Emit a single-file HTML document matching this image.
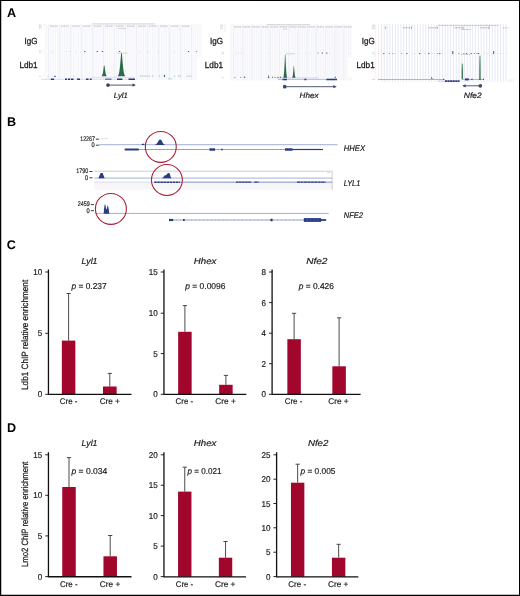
<!DOCTYPE html>
<html lang="en">
<head>
<meta charset="utf-8">
<title>Figure</title>
<style>
html,body{margin:0;padding:0;background:#fff;}
body{width:520px;height:596px;overflow:hidden;position:relative;}
svg text{stroke:#1a1a1a;stroke-width:0.18px;}
svg text.nb{stroke:none;}
svg{position:absolute;left:0;top:0;display:block;will-change:transform;opacity:0.999;font-family:"Liberation Sans", sans-serif;}
</style>
</head>
<body>
<svg width="520" height="596" viewBox="0 0 520 596" text-rendering="geometricPrecision">
<text x="7.0" y="17.1" font-size="12.6" text-anchor="start" font-weight="bold" class="nb" fill="#000">A</text>
<text x="7.0" y="125.9" font-size="12.6" text-anchor="start" font-weight="bold" class="nb" fill="#000">B</text>
<text x="6.7" y="249.1" font-size="12.6" text-anchor="start" font-weight="bold" class="nb" fill="#000">C</text>
<text x="7.0" y="432.1" font-size="12.6" text-anchor="start" font-weight="bold" class="nb" fill="#000">D</text>
<rect x="44.5" y="23.5" width="157.5" height="57" fill="#fcfcfe"/>
<path d="M46.40 24.5V80M48.66 24.5V80M50.92 24.5V80M53.18 24.5V80M55.44 24.5V80M57.70 24.5V80M59.96 24.5V80M62.22 24.5V80M64.48 24.5V80M66.74 24.5V80M69.00 24.5V80M71.26 24.5V80M73.52 24.5V80M75.78 24.5V80M78.04 24.5V80M80.30 24.5V80M82.56 24.5V80M84.82 24.5V80M87.08 24.5V80M89.34 24.5V80M91.60 24.5V80M93.86 24.5V80M96.12 24.5V80M98.38 24.5V80M100.64 24.5V80M102.90 24.5V80M105.16 24.5V80M107.42 24.5V80M109.68 24.5V80M111.94 24.5V80M114.20 24.5V80M116.46 24.5V80M118.72 24.5V80M120.98 24.5V80M123.24 24.5V80M125.50 24.5V80M127.76 24.5V80M130.02 24.5V80M132.28 24.5V80M134.54 24.5V80M136.80 24.5V80M139.06 24.5V80M141.32 24.5V80M143.58 24.5V80M145.84 24.5V80M148.10 24.5V80M150.36 24.5V80M152.62 24.5V80M154.88 24.5V80M157.14 24.5V80M159.40 24.5V80M161.66 24.5V80M163.92 24.5V80M166.18 24.5V80M168.44 24.5V80M170.70 24.5V80M172.96 24.5V80M175.22 24.5V80M177.48 24.5V80M179.74 24.5V80M182.00 24.5V80M184.26 24.5V80M186.52 24.5V80M188.78 24.5V80M191.04 24.5V80M193.30 24.5V80M195.56 24.5V80M197.82 24.5V80M200.08 24.5V80" stroke="#f1f2f8" stroke-width="0.7" fill="none"/>
<path d="M48.60 24.5V80M59.60 24.5V80M70.60 24.5V80M81.60 24.5V80M92.60 24.5V80M103.60 24.5V80M114.60 24.5V80M125.60 24.5V80M136.60 24.5V80M147.60 24.5V80M158.60 24.5V80M169.60 24.5V80M180.60 24.5V80M191.60 24.5V80" stroke="#eaecf4" stroke-width="0.7" fill="none"/>
<path d="M43.8 24V80" stroke="#f8ecec" stroke-width="0.6" stroke-dasharray="6 18"/>
<path d="M92 23.9H155" stroke="#b9b9c2" stroke-width="0.6"/>
<path d="M50 26.1h8M61 26.1h8M72 26.1h8M83 26.1h8M94 26.1h8M105 26.1h8M116 26.1h8M127 26.1h8M138 26.1h8M149 26.1h8M160 26.1h8M171 26.1h8M182 26.1h8" stroke="#a2a2ad" stroke-width="0.75" stroke-dasharray="1.1 0.45" fill="none"/>
<path d="M117.8 28.5h8.4" stroke="#b4b4be" stroke-width="0.7" stroke-dasharray="1.1 0.45" fill="none"/>
<path d="M39.2 25h2.6" stroke="#aaa" stroke-width="0.7" stroke-dasharray="0.9 0.4"/>
<path d="M39.2 26.6h2.6" stroke="#aaa" stroke-width="0.7" stroke-dasharray="0.9 0.4"/>
<path d="M39.2 28.2h2.6" stroke="#aaa" stroke-width="0.7" stroke-dasharray="0.9 0.4"/>
<path d="M39.2 50.8h2.6" stroke="#a8c8b6" stroke-width="0.7" stroke-dasharray="0.9 0.4"/>
<path d="M39.2 52.3h2.6" stroke="#a8c8b6" stroke-width="0.7" stroke-dasharray="0.9 0.4"/>
<path d="M39.2 76.4h2.6" stroke="#a8c8b6" stroke-width="0.7" stroke-dasharray="0.9 0.4"/>
<rect x="51.10" y="51.15" width="1.0" height="0.7" fill="#cfd0da"/>
<rect x="65.50" y="51.15" width="1.0" height="0.7" fill="#cfd0da"/>
<rect x="69.90" y="51.15" width="1.0" height="0.7" fill="#cfd0da"/>
<rect x="74.90" y="51.15" width="1.0" height="0.7" fill="#cfd0da"/>
<rect x="84.15" y="51.05" width="1.3" height="0.9" fill="#4a4b63"/>
<rect x="96.55" y="51.05" width="1.3" height="0.9" fill="#4a4b63"/>
<rect x="101.85" y="51.05" width="1.3" height="0.9" fill="#4a4b63"/>
<rect x="118.95" y="51.05" width="1.3" height="0.9" fill="#4a4b63"/>
<rect x="138.90" y="51.15" width="1.0" height="0.7" fill="#cfd0da"/>
<rect x="147.00" y="51.15" width="1.0" height="0.7" fill="#cfd0da"/>
<rect x="157.50" y="51.15" width="1.0" height="0.7" fill="#cfd0da"/>
<rect x="173.90" y="51.15" width="1.0" height="0.7" fill="#cfd0da"/>
<rect x="187.85" y="51.05" width="1.3" height="0.9" fill="#4a4b63"/>
<rect x="195.85" y="51.05" width="1.3" height="0.9" fill="#9495a6"/>
<path d="M117.6 53.1h10" stroke="#9cc0ac" stroke-width="0.7" stroke-dasharray="1.4 0.5"/>
<path d="M103.91 65.40 L103.60 68.10 L103.24 70.80 L102.77 73.61 L102.30 75.12 L101.60 76.20 L106.80 76.20 L106.10 75.12 L105.63 73.61 L105.16 70.80 L104.80 68.10 L104.49 65.40Z" fill="#2b6a49"/>
<path d="M121.10 53.20 L120.66 58.95 L120.15 64.70 L119.49 70.68 L118.84 73.90 L117.85 76.20 L125.15 76.20 L124.16 73.90 L123.51 70.68 L122.85 64.70 L122.34 58.95 L121.90 53.20Z" fill="#2b6a49"/>
<path d="M47.6 76.3h1.2M73 76.3h1.2" stroke="#a8c8b6" stroke-width="0.8"/>
<path d="M54 76.4h2" stroke="#2a3a8a" stroke-width="0.8"/>
<path d="M91 77.4H134.4" stroke="#c0cbeb" stroke-width="0.5"/>
<path d="M140 76.1h10M152 76.1h2M159 76.1h1.6M174 76.1h1M178 76.1h3.6M186.8 76.1h4.8M199.2 76.1h0.8" stroke="#7fae93" stroke-width="0.7" stroke-dasharray="1.2 0.6"/>
<rect x="163.9" y="74.9" width="1.1" height="2" fill="#2b6a49"/>
<path d="M41 79.3H135" stroke="#d9dff2" stroke-width="1"/>
<path d="M50.8 79.25H54.1M65 79.25H67M67.9 79.25H70M70.8 79.25H73.5M77 79.25H80M86 79.25H88.5M89.8 79.25H91.6M117 79.25H122.4M128.5 79.25H135" stroke="#2a3a8a" stroke-width="1.5"/>
<path d="M105 79.25H111.5" stroke="#6b7cc0" stroke-width="1.5"/>
<path d="M168 78.8h4" stroke="#b9c6ea" stroke-width="0.9"/>
<text x="37.6" y="44.2" font-size="8.9" text-anchor="end" textLength="13.0" lengthAdjust="spacingAndGlyphs" fill="#1a1a1a" style="stroke-width:0.28px">IgG</text>
<text x="37.6" y="68.1" font-size="8.9" text-anchor="end" textLength="18.2" lengthAdjust="spacingAndGlyphs" fill="#1a1a1a" style="stroke-width:0.28px">Ldb1</text>
<circle cx="108" cy="85.1" r="1.85" fill="#3b4766"/>
<path d="M108 85.1H134.4" stroke="#3b4766" stroke-width="0.9"/>
<path d="M135.9 85.1l-3.4 -1.6v3.2z" fill="#3b4766"/>
<text x="113.8" y="97.7" font-size="7.8" text-anchor="start" font-style="italic" textLength="14.0" lengthAdjust="spacingAndGlyphs" fill="#1a1a1a">Lyl1</text>
<rect x="229.8" y="24" width="121.6" height="56.6" fill="#fbfbfd"/>
<path d="M231.20 24.8V80.2M233.50 24.8V80.2M235.80 24.8V80.2M238.10 24.8V80.2M240.40 24.8V80.2M242.70 24.8V80.2M245.00 24.8V80.2M247.30 24.8V80.2M249.60 24.8V80.2M251.90 24.8V80.2M254.20 24.8V80.2M256.50 24.8V80.2M258.80 24.8V80.2M261.10 24.8V80.2M263.40 24.8V80.2M265.70 24.8V80.2M268.00 24.8V80.2M270.30 24.8V80.2M272.60 24.8V80.2M274.90 24.8V80.2M277.20 24.8V80.2M279.50 24.8V80.2M281.80 24.8V80.2M284.10 24.8V80.2M286.40 24.8V80.2M288.70 24.8V80.2M291.00 24.8V80.2M293.30 24.8V80.2M295.60 24.8V80.2M297.90 24.8V80.2M300.20 24.8V80.2M302.50 24.8V80.2M304.80 24.8V80.2M307.10 24.8V80.2M309.40 24.8V80.2M311.70 24.8V80.2M314.00 24.8V80.2M316.30 24.8V80.2M318.60 24.8V80.2M320.90 24.8V80.2M323.20 24.8V80.2M325.50 24.8V80.2M327.80 24.8V80.2M330.10 24.8V80.2M332.40 24.8V80.2M334.70 24.8V80.2M337.00 24.8V80.2M339.30 24.8V80.2M341.60 24.8V80.2M343.90 24.8V80.2M346.20 24.8V80.2M348.50 24.8V80.2M350.80 24.8V80.2" stroke="#f1f2f8" stroke-width="0.7" fill="none"/>
<path d="M233.50 24.8V80.2M242.70 24.8V80.2M251.90 24.8V80.2M261.10 24.8V80.2M270.30 24.8V80.2M279.50 24.8V80.2M288.70 24.8V80.2M297.90 24.8V80.2M307.10 24.8V80.2M316.30 24.8V80.2M325.50 24.8V80.2M334.70 24.8V80.2M343.90 24.8V80.2" stroke="#eaecf4" stroke-width="0.7" fill="none"/>
<rect x="197" y="57" width="32.6" height="24" fill="#fff"/>
<rect x="348.2" y="57" width="10" height="20" fill="#fff"/>
<path d="M266.8 24.7H310" stroke="#b9b9c2" stroke-width="0.6"/>
<path d="M224.9 24V32" stroke="#f1d9d9" stroke-width="0.6"/>
<path d="M234.0 26.9h7.4M243.2 26.9h7.4M252.4 26.9h7.4M261.6 26.9h7.4M270.8 26.9h7.4M280.0 26.9h7.4M289.2 26.9h7.4M298.4 26.9h7.4M307.6 26.9h7.4M316.8 26.9h7.4M326.0 26.9h7.4M335.2 26.9h7.4M344.4 26.9h7.4" stroke="#a2a2ad" stroke-width="0.75" stroke-dasharray="1.1 0.45" fill="none"/>
<path d="M283 29h4.2" stroke="#b4b4be" stroke-width="0.7" stroke-dasharray="1.1 0.45" fill="none"/>
<path d="M220.4 25.2h2.6" stroke="#aaa" stroke-width="0.7" stroke-dasharray="0.9 0.4"/>
<path d="M220.4 26.8h2.6" stroke="#aaa" stroke-width="0.7" stroke-dasharray="0.9 0.4"/>
<path d="M220.4 28.4h2.6" stroke="#aaa" stroke-width="0.7" stroke-dasharray="0.9 0.4"/>
<path d="M221.6 52.4h2.6" stroke="#a8c8b6" stroke-width="0.7" stroke-dasharray="0.9 0.4"/>
<path d="M221.6 54h2.6" stroke="#a8c8b6" stroke-width="0.7" stroke-dasharray="0.9 0.4"/>
<path d="M221.6 77.6h2.6" stroke="#a8c8b6" stroke-width="0.7" stroke-dasharray="0.9 0.4"/>
<rect x="235.50" y="52.75" width="1.0" height="0.7" fill="#cfd0da"/>
<rect x="238.00" y="52.75" width="1.0" height="0.7" fill="#cfd0da"/>
<rect x="240.90" y="52.75" width="1.0" height="0.7" fill="#cfd0da"/>
<rect x="267.50" y="52.75" width="1.0" height="0.7" fill="#cfd0da"/>
<rect x="280.50" y="52.75" width="1.0" height="0.7" fill="#cfd0da"/>
<rect x="298.30" y="52.75" width="1.0" height="0.7" fill="#cfd0da"/>
<rect x="305.50" y="52.75" width="1.0" height="0.7" fill="#cfd0da"/>
<rect x="309.50" y="52.75" width="1.0" height="0.7" fill="#cfd0da"/>
<rect x="317.35" y="52.65" width="1.3" height="0.9" fill="#9495a6"/>
<rect x="321.75" y="52.65" width="1.3" height="0.9" fill="#4a4b63"/>
<rect x="326.15" y="52.65" width="1.3" height="0.9" fill="#4a4b63"/>
<rect x="329.50" y="52.75" width="1.0" height="0.7" fill="#cfd0da"/>
<rect x="349.90" y="52.75" width="1.0" height="0.7" fill="#cfd0da"/>
<path d="M286.4 53.8h8.6" stroke="#9cc0ac" stroke-width="0.7" stroke-dasharray="1.4 0.5"/>
<path d="M275 77.9H318.8" stroke="#b3c0e6" stroke-width="0.6"/>
<path d="M284.99 54.40 L284.75 60.23 L284.48 66.05 L284.13 72.11 L283.78 75.37 L283.25 77.70 L287.15 77.70 L286.62 75.37 L286.27 72.11 L285.92 66.05 L285.65 60.23 L285.41 54.40Z" fill="#2b6a49"/>
<path d="M293.66 66.00 L293.45 68.92 L293.20 71.85 L292.89 74.89 L292.57 76.53 L292.10 77.70 L295.60 77.70 L295.13 76.53 L294.81 74.89 L294.50 71.85 L294.25 68.92 L294.04 66.00Z" fill="#2b6a49"/>
<path d="M234.82 76.80 L234.74 77.08 L234.64 77.35 L234.52 77.64 L234.39 77.79 L234.20 77.90 L235.60 77.90 L235.41 77.79 L235.28 77.64 L235.16 77.35 L235.06 77.08 L234.98 76.80Z" fill="#3f7a5a"/>
<path d="M240.82 76.80 L240.74 77.08 L240.64 77.35 L240.52 77.64 L240.39 77.79 L240.20 77.90 L241.60 77.90 L241.41 77.79 L241.28 77.64 L241.16 77.35 L241.06 77.08 L240.98 76.80Z" fill="#3f7a5a"/>
<path d="M244.40 75.80 L244.29 76.33 L244.17 76.85 L244.00 77.40 L243.84 77.69 L243.60 77.90 L245.40 77.90 L245.16 77.69 L245.00 77.40 L244.83 76.85 L244.71 76.33 L244.60 75.80Z" fill="#3f7a5a"/>
<path d="M268.49 74.80 L268.37 75.58 L268.23 76.35 L268.05 77.16 L267.87 77.59 L267.60 77.90 L269.60 77.90 L269.33 77.59 L269.15 77.16 L268.97 76.35 L268.83 75.58 L268.71 74.80Z" fill="#3f7a5a"/>
<path d="M272.31 76.40 L272.22 76.78 L272.10 77.15 L271.96 77.54 L271.82 77.75 L271.60 77.90 L273.20 77.90 L272.98 77.75 L272.84 77.54 L272.70 77.15 L272.58 76.78 L272.49 76.40Z" fill="#3f7a5a"/>
<path d="M274.82 76.60 L274.74 76.92 L274.64 77.25 L274.51 77.59 L274.39 77.77 L274.20 77.90 L275.60 77.90 L275.41 77.77 L275.28 77.59 L275.16 77.25 L275.06 76.92 L274.98 76.60Z" fill="#3f7a5a"/>
<path d="M277.91 76.20 L277.82 76.62 L277.70 77.05 L277.56 77.49 L277.42 77.73 L277.20 77.90 L278.80 77.90 L278.58 77.73 L278.44 77.49 L278.30 77.05 L278.18 76.62 L278.09 76.20Z" fill="#3f7a5a"/>
<path d="M280.51 76.20 L280.42 76.62 L280.30 77.05 L280.16 77.49 L280.02 77.73 L279.80 77.90 L281.40 77.90 L281.18 77.73 L281.04 77.49 L280.90 77.05 L280.78 76.62 L280.69 76.20Z" fill="#3f7a5a"/>
<path d="M335.10 76.20 L334.99 76.62 L334.87 77.05 L334.70 77.49 L334.54 77.73 L334.30 77.90 L336.10 77.90 L335.86 77.73 L335.69 77.49 L335.53 77.05 L335.41 76.62 L335.30 76.20Z" fill="#3f7a5a"/>
<path d="M278 79.4H337" stroke="#9fb0dc" stroke-width="0.8"/>
<path d="M282.5 79.4H287M304.4 79.4h1.9M326.4 79.4H337" stroke="#2a3a8a" stroke-width="1.5"/>
<text x="223" y="44.2" font-size="8.9" text-anchor="end" textLength="13.0" lengthAdjust="spacingAndGlyphs" fill="#1a1a1a" style="stroke-width:0.28px">IgG</text>
<text x="223" y="68.1" font-size="8.9" text-anchor="end" textLength="18.2" lengthAdjust="spacingAndGlyphs" fill="#1a1a1a" style="stroke-width:0.28px">Ldb1</text>
<circle cx="284.7" cy="86.7" r="1.85" fill="#3b4766"/>
<path d="M284.7 86.7H335.2" stroke="#3b4766" stroke-width="0.9"/>
<path d="M336.7 86.7l-3.4 -1.6v3.2z" fill="#3b4766"/>
<text x="299.6" y="97.8" font-size="7.8" text-anchor="start" font-style="italic" textLength="18.9" lengthAdjust="spacingAndGlyphs" fill="#1a1a1a">Hhex</text>
<path d="M381.50 23.8V81.8M384.27 23.8V81.8M387.04 23.8V81.8M389.80 23.8V81.8M392.57 23.8V81.8M395.34 23.8V81.8M398.11 23.8V81.8M400.88 23.8V81.8M403.64 23.8V81.8M406.41 23.8V81.8M409.18 23.8V81.8M411.95 23.8V81.8M414.72 23.8V81.8M417.48 23.8V81.8M420.25 23.8V81.8M423.02 23.8V81.8M425.79 23.8V81.8M428.56 23.8V81.8M431.32 23.8V81.8M434.09 23.8V81.8M436.86 23.8V81.8M439.63 23.8V81.8M442.40 23.8V81.8M445.16 23.8V81.8M447.93 23.8V81.8M450.70 23.8V81.8M453.47 23.8V81.8M456.24 23.8V81.8M459.00 23.8V81.8M461.77 23.8V81.8M464.54 23.8V81.8M467.31 23.8V81.8M470.08 23.8V81.8M472.84 23.8V81.8M475.61 23.8V81.8M478.38 23.8V81.8M481.15 23.8V81.8M483.92 23.8V81.8M486.68 23.8V81.8M489.45 23.8V81.8M492.22 23.8V81.8M494.99 23.8V81.8M497.76 23.8V81.8M500.52 23.8V81.8M503.29 23.8V81.8M506.06 23.8V81.8" stroke="#e0e3f3" stroke-width="0.8" fill="none"/>
<path d="M508.80 78.5V82M511.10 78.5V82M513.40 78.5V82" stroke="#e6e8f5" stroke-width="0.8" fill="none"/>
<path d="M375.6 24V81M378.5 24V81" stroke="#f6e6e6" stroke-width="0.6"/>
<path d="M438 25.4H498.8" stroke="#9a9aa6" stroke-width="0.6" stroke-dasharray="1.6 0.5"/>
<path d="M402.8 27.8h7.6M428.6 27.8h7.6M454.4 27.8h7.6M480.2 27.8h7.6" stroke="#8e8e9a" stroke-width="0.75" stroke-dasharray="1.1 0.45" fill="none"/>
<path d="M385.6 26.6v2M411.4 26.6v2.2M437.2 26.6v2.2M463 26.6v2.2M488.8 26.6v2.2" stroke="#777" stroke-width="0.7"/>
<path d="M503 27.8h5.6" stroke="#b4b4be" stroke-width="0.8" stroke-dasharray="1.1 0.45" fill="none"/>
<path d="M461.4 29.5h8.4" stroke="#a2a2ad" stroke-width="0.7" stroke-dasharray="1.1 0.45" fill="none"/>
<path d="M372.4 25.2h2.6" stroke="#999" stroke-width="0.7" stroke-dasharray="0.9 0.4"/>
<path d="M372.4 26.8h2.6" stroke="#999" stroke-width="0.7" stroke-dasharray="0.9 0.4"/>
<path d="M372.4 28.4h2.6" stroke="#999" stroke-width="0.7" stroke-dasharray="0.9 0.4"/>
<path d="M372.4 52.6h2.6" stroke="#a8c8b6" stroke-width="0.7" stroke-dasharray="0.9 0.4"/>
<path d="M372.4 54.2h2.6" stroke="#a8c8b6" stroke-width="0.7" stroke-dasharray="0.9 0.4"/>
<path d="M372.4 79.4h2.6" stroke="#8fa2d6" stroke-width="0.7" stroke-dasharray="0.9 0.4"/>
<rect x="378.00" y="53.25" width="1.0" height="0.7" fill="#cfd0da"/>
<rect x="383.15" y="53.15" width="1.3" height="0.9" fill="#4a4b63"/>
<rect x="388.75" y="53.15" width="1.3" height="0.9" fill="#9495a6"/>
<rect x="392.35" y="53.15" width="1.3" height="0.9" fill="#9495a6"/>
<rect x="395.10" y="53.25" width="1.0" height="0.7" fill="#cfd0da"/>
<rect x="400.95" y="53.15" width="1.3" height="0.9" fill="#9495a6"/>
<rect x="406.25" y="53.15" width="1.3" height="0.9" fill="#4a4b63"/>
<rect x="413.30" y="53.25" width="1.0" height="0.7" fill="#cfd0da"/>
<rect x="415.10" y="53.25" width="1.0" height="0.7" fill="#cfd0da"/>
<rect x="418.95" y="53.15" width="1.3" height="0.9" fill="#4a4b63"/>
<rect x="423.90" y="53.25" width="1.0" height="0.7" fill="#cfd0da"/>
<rect x="428.15" y="53.15" width="1.3" height="0.9" fill="#4a4b63"/>
<rect x="431.50" y="53.25" width="1.0" height="0.7" fill="#cfd0da"/>
<rect x="433.90" y="53.25" width="1.0" height="0.7" fill="#cfd0da"/>
<rect x="436.85" y="53.15" width="1.3" height="0.9" fill="#9495a6"/>
<rect x="439.15" y="53.15" width="1.3" height="0.9" fill="#4a4b63"/>
<rect x="442.00" y="53.25" width="1.0" height="0.7" fill="#cfd0da"/>
<rect x="458.15" y="53.15" width="1.3" height="0.9" fill="#9495a6"/>
<rect x="463.15" y="53.15" width="1.3" height="0.9" fill="#9495a6"/>
<rect x="465.85" y="53.15" width="1.3" height="0.9" fill="#4a4b63"/>
<rect x="470.55" y="53.15" width="1.3" height="0.9" fill="#4a4b63"/>
<rect x="473.75" y="53.15" width="1.3" height="0.9" fill="#9495a6"/>
<rect x="476.35" y="53.15" width="1.3" height="0.9" fill="#9495a6"/>
<rect x="477.95" y="53.15" width="1.3" height="0.9" fill="#4a4b63"/>
<rect x="483.90" y="53.25" width="1.0" height="0.7" fill="#cfd0da"/>
<rect x="487.00" y="53.25" width="1.0" height="0.7" fill="#cfd0da"/>
<rect x="496.40" y="53.25" width="1.0" height="0.7" fill="#cfd0da"/>
<rect x="499.50" y="53.25" width="1.0" height="0.7" fill="#cfd0da"/>
<rect x="502.50" y="53.25" width="1.0" height="0.7" fill="#cfd0da"/>
<rect x="506.50" y="53.25" width="1.0" height="0.7" fill="#cfd0da"/>
<path d="M452.8 51.1v2.9M493.7 51.1v2.9" stroke="#2a2a40" stroke-width="0.8"/>
<path d="M461 54.5h9" stroke="#9cc0ac" stroke-width="0.7" stroke-dasharray="1.4 0.5"/>
<defs><linearGradient id="pg" x1="0" y1="0" x2="0" y2="1"><stop offset="0" stop-color="#7faf95"/><stop offset="0.5" stop-color="#3b7857"/><stop offset="1" stop-color="#2b6a49"/></linearGradient></defs>
<rect x="461.65" y="63.5" width="1.3" height="15.4" fill="url(#pg)"/>
<rect x="479.3" y="55.6" width="1.3" height="23.3" fill="url(#pg)"/>
<path d="M430.8 78.8l0.7-2 0.8 1.4 1.6 0.6z" fill="#3f7a5a"/>
<path d="M378 79.5H443.8M461.5 79.5H483.6" stroke="#aab4da" stroke-width="1"/>
<path d="M443.2 79.4h1.1" stroke="#2a3a8a" stroke-width="1.3"/>
<path d="M465 79.4h3.8" stroke="#2a3a8a" stroke-width="2"/>
<path d="M471.3 79.4h1.3M479.3 79.4h1.3M483 79.4h1" stroke="#2a3a8a" stroke-width="1.4"/>
<path d="M438 81.2H445" stroke="#c3cceb" stroke-width="1"/>
<path d="M445 81.2H459.6" stroke="#2a3a8a" stroke-width="1.7" stroke-dasharray="2.2 0.35"/>
<text x="374.7" y="44.2" font-size="8.9" text-anchor="end" textLength="13.0" lengthAdjust="spacingAndGlyphs" fill="#1a1a1a" style="stroke-width:0.28px">IgG</text>
<text x="374.7" y="68.1" font-size="8.9" text-anchor="end" textLength="18.2" lengthAdjust="spacingAndGlyphs" fill="#1a1a1a" style="stroke-width:0.28px">Ldb1</text>
<circle cx="480.3" cy="85.8" r="1.85" fill="#3b4766"/>
<path d="M480.3 85.8H463.7" stroke="#3b4766" stroke-width="0.9"/>
<path d="M462.2 85.8l3.4 -1.6v3.2z" fill="#3b4766"/>
<text x="463.8" y="97.8" font-size="7.8" text-anchor="start" font-style="italic" textLength="17.8" lengthAdjust="spacingAndGlyphs" fill="#1a1a1a">Nfe2</text>
<text x="94.8" y="141" font-size="6.7" text-anchor="end" textLength="14.5" lengthAdjust="spacingAndGlyphs" fill="#1c1c1c">12267</text>
<path d="M95.89999999999999 139.20h3.2" stroke="#1c1c1c" stroke-width="0.85"/>
<text x="94.8" y="147" font-size="6.7" text-anchor="end" textLength="3.2" lengthAdjust="spacingAndGlyphs" fill="#1c1c1c">0</text>
<path d="M95.89999999999999 145.20h3.2" stroke="#1c1c1c" stroke-width="0.85"/>
<text x="88.2" y="173.3" font-size="6.7" text-anchor="end" textLength="12" lengthAdjust="spacingAndGlyphs" fill="#1c1c1c">1790</text>
<path d="M89.3 171.50h3.2" stroke="#1c1c1c" stroke-width="0.85"/>
<text x="88.2" y="179.6" font-size="6.7" text-anchor="end" textLength="3.2" lengthAdjust="spacingAndGlyphs" fill="#1c1c1c">0</text>
<path d="M89.3 177.80h3.2" stroke="#1c1c1c" stroke-width="0.85"/>
<text x="89.7" y="206.4" font-size="6.7" text-anchor="end" textLength="12" lengthAdjust="spacingAndGlyphs" fill="#1c1c1c">2459</text>
<path d="M90.8 204.60h3.2" stroke="#1c1c1c" stroke-width="0.85"/>
<text x="89.7" y="212.5" font-size="6.7" text-anchor="end" textLength="3.2" lengthAdjust="spacingAndGlyphs" fill="#1c1c1c">0</text>
<path d="M90.8 210.70h3.2" stroke="#1c1c1c" stroke-width="0.85"/>
<path d="M100.5 138.6h7" stroke="#c9c9d2" stroke-width="0.7" stroke-dasharray="3 1"/>
<path d="M99 144.7H337.5" stroke="#a3b0d6" stroke-width="1"/>
<path d="M141.4 144.9l0.8-1.1h1.8l0.7 1.1z" fill="#2a3c86"/>
<path d="M154.4 145L156.3 144.3L157.7 142.2L158.9 140.3Q160.2 138.9 161.5 140.3L162.6 142.4L163.6 144L165.2 145Z" fill="#2a3c86"/>
<path d="M138 149.5H323" stroke="#6b7dba" stroke-width="0.7"/>
<path d="M144 149.5H284" stroke="#4a5ea6" stroke-width="1.2" stroke-dasharray="0.45 3.45" opacity="0.7"/>
<path d="M124.2 149.5l1.2-1.1H138.8v2.2H125.4z" fill="#2a3c86"/>
<path d="M209.5 149.5h5.6M285 149.5h7.6" stroke="#2a3c86" stroke-width="2.3"/>
<path d="M221 149.5h1.7" stroke="#2a3c86" stroke-width="1.7"/>
<path d="M292.6 149.5H323" stroke="#2a3c86" stroke-width="1.2"/>
<text x="343.8" y="150.8" font-size="8.2" text-anchor="start" font-style="italic" textLength="21.2" lengthAdjust="spacingAndGlyphs" fill="#1a1a1a">HHEX</text>
<rect x="94.3" y="182" width="237.8" height="7.7" fill="#f6f6f8"/>
<path d="M94.3 182H332" stroke="#d6d6db" stroke-width="0.8"/>
<path d="M94.3 171.2H332.2V189.7" stroke="#c2c2c8" stroke-width="0.8" fill="none"/>
<path d="M327 172.6h3" stroke="#b5b5bb" stroke-width="0.5"/>
<path d="M94.3 178.1H332" stroke="#a3b0d6" stroke-width="1"/>
<path d="M98.4 178.3l2.2-5.2h2l2.1 5.2z" fill="#2a3c86"/>
<path d="M161 178.3c1.4-0.1 2.2-0.9 2.8-1.9 0.4-0.7 0.8-1 1.6-1.1 0.9-0.1 1.3-0.8 1.8-1.6 0.5-0.7 1.2-0.9 1.9-0.6 0.6 0.3 0.9 1 1.1 2 0.3 1.6 0.5 2.9 1.6 3.2z" fill="#2a3c86"/>
<path d="M180 182.2H332" stroke="#6b7dba" stroke-width="0.7"/>
<path d="M154.2 182.2H180" stroke="#2a3c86" stroke-width="1.5" stroke-dasharray="2.6 0.45"/>
<path d="M236 182.2h15.4M254.4 182.2h4.2" stroke="#2a3c86" stroke-width="1.3" stroke-dasharray="2.6 0.45"/>
<path d="M297 182.2h28.6" stroke="#2a3c86" stroke-width="1.3" stroke-dasharray="3 0.45"/>
<text x="343.8" y="185.8" font-size="8.2" text-anchor="start" font-style="italic" textLength="16.4" lengthAdjust="spacingAndGlyphs" fill="#1a1a1a">LYL1</text>
<path d="M95 213.4H328.8" stroke="#a3b0d6" stroke-width="1"/>
<path d="M103.7 213.7L104.1 208.4L104.7 204.5H105.4L106 208.4L106.45 209.4L106.9 208.4L107.4 205.7H108L108.7 209L109.3 213.7Z" fill="#2a3c86"/>
<path d="M173 220H304" stroke="#6b7dba" stroke-width="0.7"/>
<path d="M176 220H303" stroke="#4a5ea6" stroke-width="1.2" stroke-dasharray="0.45 3.45" opacity="0.7"/>
<path d="M169 220h4.2" stroke="#2a3c86" stroke-width="2.2"/>
<path d="M183 220h1.7" stroke="#2a3c86" stroke-width="1.8"/>
<path d="M269.8 220l1.6-1.6v3.2z" fill="#2a3c86"/><path d="M271 220h1.6" stroke="#2a3c86" stroke-width="2.6"/>
<path d="M303.8 220h17.4" stroke="#2a3c86" stroke-width="3.8"/>
<path d="M321 220h5.2" stroke="#2a3c86" stroke-width="1.8"/>
<path d="M307 220h12" stroke="#7585c0" stroke-width="0.8" stroke-dasharray="1 2.4"/>
<text x="343.8" y="218.1" font-size="8.2" text-anchor="start" font-style="italic" textLength="19.2" lengthAdjust="spacingAndGlyphs" fill="#1a1a1a">NFE2</text>
<circle cx="160.8" cy="146.9" r="15.45" fill="none" stroke="#ab2038" stroke-width="1.1"/>
<circle cx="166.9" cy="180" r="15.45" fill="none" stroke="#ab2038" stroke-width="1.1"/>
<circle cx="110.9" cy="208.9" r="15.45" fill="none" stroke="#ab2038" stroke-width="1.1"/>
<path d="M68.60 340.6V293.5M66.50 293.5h4.2" stroke="#2c2c2c" stroke-width="0.85" fill="none"/>
<rect x="61.85" y="340.6" width="13.50" height="53.80" fill="#a1062c"/>
<path d="M109.80 386.5V373.4M107.70 373.4h4.2" stroke="#2c2c2c" stroke-width="0.85" fill="none"/>
<rect x="102.95" y="386.5" width="13.70" height="7.90" fill="#a1062c"/>
<path d="M48.45 269.4V394.40H131.5" stroke="#111" stroke-width="1.3" fill="none"/>
<path d="M45.25 272h3.2M45.25 333.3h3.2M45.25 394.3h3.2" stroke="#111" stroke-width="0.9" fill="none"/>
<text x="42.35" y="275.0" font-size="8.5" text-anchor="end" textLength="9.0" lengthAdjust="spacingAndGlyphs" fill="#1a1a1a">10</text>
<text x="42.35" y="336.3" font-size="8.5" text-anchor="end" textLength="4.5" lengthAdjust="spacingAndGlyphs" fill="#1a1a1a">5</text>
<text x="42.35" y="397.3" font-size="8.5" text-anchor="end" textLength="4.5" lengthAdjust="spacingAndGlyphs" fill="#1a1a1a">0</text>
<text x="81.6" y="263.65" font-size="8.7" text-anchor="start" font-style="italic" textLength="15.9" lengthAdjust="spacingAndGlyphs" fill="#1a1a1a">Lyl1</text>
<text x="71.5" y="288.6" font-size="8.6" fill="#1a1a1a" textLength="35.2" lengthAdjust="spacingAndGlyphs"><tspan font-style="italic">p</tspan> = 0.237</text>
<text x="59.8" y="404.3" font-size="8.4" text-anchor="start" textLength="17.6" lengthAdjust="spacingAndGlyphs" fill="#1a1a1a">Cre -</text>
<text x="99.7" y="404.3" font-size="8.4" text-anchor="start" textLength="20.2" lengthAdjust="spacingAndGlyphs" fill="#1a1a1a">Cre +</text>
<path d="M184.90 331.8V305.6M182.80 305.6h4.2" stroke="#2c2c2c" stroke-width="0.85" fill="none"/>
<rect x="178.15" y="331.8" width="13.50" height="62.60" fill="#a1062c"/>
<path d="M225.90 384.8V375.4M223.80 375.4h4.2" stroke="#2c2c2c" stroke-width="0.85" fill="none"/>
<rect x="219.15" y="384.8" width="13.50" height="9.60" fill="#a1062c"/>
<path d="M163.95 269.4V394.40H246.3" stroke="#111" stroke-width="1.3" fill="none"/>
<path d="M160.75 272h3.2M160.75 313.2h3.2M160.75 353.6h3.2M160.75 394.3h3.2" stroke="#111" stroke-width="0.9" fill="none"/>
<text x="157.85" y="275.0" font-size="8.5" text-anchor="end" textLength="9.0" lengthAdjust="spacingAndGlyphs" fill="#1a1a1a">15</text>
<text x="157.85" y="316.2" font-size="8.5" text-anchor="end" textLength="9.0" lengthAdjust="spacingAndGlyphs" fill="#1a1a1a">10</text>
<text x="157.85" y="356.6" font-size="8.5" text-anchor="end" textLength="4.5" lengthAdjust="spacingAndGlyphs" fill="#1a1a1a">5</text>
<text x="157.85" y="397.3" font-size="8.5" text-anchor="end" textLength="4.5" lengthAdjust="spacingAndGlyphs" fill="#1a1a1a">0</text>
<text x="193.8" y="263.65" font-size="8.7" text-anchor="start" font-style="italic" textLength="22.6" lengthAdjust="spacingAndGlyphs" fill="#1a1a1a">Hhex</text>
<text x="185.2" y="288.6" font-size="8.6" fill="#1a1a1a" textLength="40.3" lengthAdjust="spacingAndGlyphs"><tspan font-style="italic">p</tspan> = 0.0096</text>
<text x="175.6" y="404.3" font-size="8.4" text-anchor="start" textLength="17.6" lengthAdjust="spacingAndGlyphs" fill="#1a1a1a">Cre -</text>
<text x="215.3" y="404.3" font-size="8.4" text-anchor="start" textLength="20.4" lengthAdjust="spacingAndGlyphs" fill="#1a1a1a">Cre +</text>
<path d="M294.10 339.2V313.3M292.00 313.3h4.2" stroke="#2c2c2c" stroke-width="0.85" fill="none"/>
<rect x="287.35" y="339.2" width="13.50" height="55.20" fill="#a1062c"/>
<path d="M339.10 366.3V317.8M337.00 317.8h4.2" stroke="#2c2c2c" stroke-width="0.85" fill="none"/>
<rect x="332.35" y="366.3" width="13.50" height="28.10" fill="#a1062c"/>
<path d="M272.10 269.4V394.40H360.6" stroke="#111" stroke-width="1.3" fill="none"/>
<path d="M268.90 272h3.2M268.90 302.6h3.2M268.90 333.2h3.2M268.90 363.7h3.2M268.90 394.3h3.2" stroke="#111" stroke-width="0.9" fill="none"/>
<text x="266.0" y="275.0" font-size="8.5" text-anchor="end" textLength="4.5" lengthAdjust="spacingAndGlyphs" fill="#1a1a1a">8</text>
<text x="266.0" y="305.6" font-size="8.5" text-anchor="end" textLength="4.5" lengthAdjust="spacingAndGlyphs" fill="#1a1a1a">6</text>
<text x="266.0" y="336.2" font-size="8.5" text-anchor="end" textLength="4.5" lengthAdjust="spacingAndGlyphs" fill="#1a1a1a">4</text>
<text x="266.0" y="366.7" font-size="8.5" text-anchor="end" textLength="4.5" lengthAdjust="spacingAndGlyphs" fill="#1a1a1a">2</text>
<text x="266.0" y="397.3" font-size="8.5" text-anchor="end" textLength="4.5" lengthAdjust="spacingAndGlyphs" fill="#1a1a1a">0</text>
<text x="306.2" y="263.65" font-size="8.7" text-anchor="start" font-style="italic" textLength="21.3" lengthAdjust="spacingAndGlyphs" fill="#1a1a1a">Nfe2</text>
<text x="298.7" y="288.6" font-size="8.6" fill="#1a1a1a" textLength="35.2" lengthAdjust="spacingAndGlyphs"><tspan font-style="italic">p</tspan> = 0.426</text>
<text x="284.7" y="404.3" font-size="8.4" text-anchor="start" textLength="17.6" lengthAdjust="spacingAndGlyphs" fill="#1a1a1a">Cre -</text>
<text x="328.2" y="404.3" font-size="8.4" text-anchor="start" textLength="20.4" lengthAdjust="spacingAndGlyphs" fill="#1a1a1a">Cre +</text>
<path d="M69.00 487V457.6M66.90 457.6h4.2" stroke="#2c2c2c" stroke-width="0.85" fill="none"/>
<rect x="62.25" y="487" width="13.50" height="89.75" fill="#a1062c"/>
<path d="M110.20 556.3V535.5M108.10 535.5h4.2" stroke="#2c2c2c" stroke-width="0.85" fill="none"/>
<rect x="103.45" y="556.3" width="13.50" height="20.45" fill="#a1062c"/>
<path d="M48.45 452.2V576.75H131.5" stroke="#111" stroke-width="1.3" fill="none"/>
<path d="M45.25 454.8h3.2M45.25 495.3h3.2M45.25 535.9h3.2M45.25 576.6h3.2" stroke="#111" stroke-width="0.9" fill="none"/>
<text x="42.35" y="457.8" font-size="8.5" text-anchor="end" textLength="9.0" lengthAdjust="spacingAndGlyphs" fill="#1a1a1a">15</text>
<text x="42.35" y="498.3" font-size="8.5" text-anchor="end" textLength="9.0" lengthAdjust="spacingAndGlyphs" fill="#1a1a1a">10</text>
<text x="42.35" y="538.9" font-size="8.5" text-anchor="end" textLength="4.5" lengthAdjust="spacingAndGlyphs" fill="#1a1a1a">5</text>
<text x="42.35" y="579.6" font-size="8.5" text-anchor="end" textLength="4.5" lengthAdjust="spacingAndGlyphs" fill="#1a1a1a">0</text>
<text x="81.6" y="446.45" font-size="8.7" text-anchor="start" font-style="italic" textLength="15.9" lengthAdjust="spacingAndGlyphs" fill="#1a1a1a">Lyl1</text>
<text x="71.5" y="473.5" font-size="8.6" fill="#1a1a1a" textLength="35.8" lengthAdjust="spacingAndGlyphs"><tspan font-style="italic">p</tspan> = 0.034</text>
<text x="60" y="586.8" font-size="8.4" text-anchor="start" textLength="17.6" lengthAdjust="spacingAndGlyphs" fill="#1a1a1a">Cre -</text>
<text x="99.8" y="586.8" font-size="8.4" text-anchor="start" textLength="20.4" lengthAdjust="spacingAndGlyphs" fill="#1a1a1a">Cre +</text>
<path d="M184.75 491.6V467.2M182.65 467.2h4.2" stroke="#2c2c2c" stroke-width="0.85" fill="none"/>
<rect x="178.05" y="491.6" width="13.40" height="85.20" fill="#a1062c"/>
<path d="M225.55 557.7V541.5M223.45 541.5h4.2" stroke="#2c2c2c" stroke-width="0.85" fill="none"/>
<rect x="218.85" y="557.7" width="13.40" height="19.10" fill="#a1062c"/>
<path d="M163.95 452.2V576.80H246" stroke="#111" stroke-width="1.3" fill="none"/>
<path d="M160.75 454.8h3.2M160.75 485.2h3.2M160.75 515.6h3.2M160.75 546.1h3.2M160.75 576.6h3.2" stroke="#111" stroke-width="0.9" fill="none"/>
<text x="157.85" y="457.8" font-size="8.5" text-anchor="end" textLength="9.0" lengthAdjust="spacingAndGlyphs" fill="#1a1a1a">20</text>
<text x="157.85" y="488.2" font-size="8.5" text-anchor="end" textLength="9.0" lengthAdjust="spacingAndGlyphs" fill="#1a1a1a">15</text>
<text x="157.85" y="518.6" font-size="8.5" text-anchor="end" textLength="9.0" lengthAdjust="spacingAndGlyphs" fill="#1a1a1a">10</text>
<text x="157.85" y="549.1" font-size="8.5" text-anchor="end" textLength="4.5" lengthAdjust="spacingAndGlyphs" fill="#1a1a1a">5</text>
<text x="157.85" y="579.6" font-size="8.5" text-anchor="end" textLength="4.5" lengthAdjust="spacingAndGlyphs" fill="#1a1a1a">0</text>
<text x="193.8" y="446.45" font-size="8.7" text-anchor="start" font-style="italic" textLength="22.6" lengthAdjust="spacingAndGlyphs" fill="#1a1a1a">Hhex</text>
<text x="187.5" y="473.5" font-size="8.6" fill="#1a1a1a" textLength="34" lengthAdjust="spacingAndGlyphs"><tspan font-style="italic">p</tspan> = 0.021</text>
<text x="175.8" y="586.8" font-size="8.4" text-anchor="start" textLength="17.4" lengthAdjust="spacingAndGlyphs" fill="#1a1a1a">Cre -</text>
<text x="214.9" y="586.8" font-size="8.4" text-anchor="start" textLength="20.6" lengthAdjust="spacingAndGlyphs" fill="#1a1a1a">Cre +</text>
<path d="M297.65 482.7V464.2M295.55 464.2h4.2" stroke="#2c2c2c" stroke-width="0.85" fill="none"/>
<rect x="290.95" y="482.7" width="13.40" height="94.10" fill="#a1062c"/>
<path d="M338.65 557.7V544.3M336.55 544.3h4.2" stroke="#2c2c2c" stroke-width="0.85" fill="none"/>
<rect x="331.95" y="557.7" width="13.40" height="19.10" fill="#a1062c"/>
<path d="M276.60 452.2V576.80H358.3" stroke="#111" stroke-width="1.3" fill="none"/>
<path d="M273.40 454.8h3.2M273.40 479.2h3.2M273.40 503.5h3.2M273.40 527.8h3.2M273.40 552.2h3.2M273.40 576.6h3.2" stroke="#111" stroke-width="0.9" fill="none"/>
<text x="270.5" y="457.8" font-size="8.5" text-anchor="end" textLength="9.0" lengthAdjust="spacingAndGlyphs" fill="#1a1a1a">25</text>
<text x="270.5" y="482.2" font-size="8.5" text-anchor="end" textLength="9.0" lengthAdjust="spacingAndGlyphs" fill="#1a1a1a">20</text>
<text x="270.5" y="506.5" font-size="8.5" text-anchor="end" textLength="9.0" lengthAdjust="spacingAndGlyphs" fill="#1a1a1a">15</text>
<text x="270.5" y="530.8" font-size="8.5" text-anchor="end" textLength="9.0" lengthAdjust="spacingAndGlyphs" fill="#1a1a1a">10</text>
<text x="270.5" y="555.2" font-size="8.5" text-anchor="end" textLength="4.5" lengthAdjust="spacingAndGlyphs" fill="#1a1a1a">5</text>
<text x="270.5" y="579.6" font-size="8.5" text-anchor="end" textLength="4.5" lengthAdjust="spacingAndGlyphs" fill="#1a1a1a">0</text>
<text x="307.9" y="446.45" font-size="8.7" text-anchor="start" font-style="italic" textLength="20.5" lengthAdjust="spacingAndGlyphs" fill="#1a1a1a">Nfe2</text>
<text x="300.5" y="473.5" font-size="8.6" fill="#1a1a1a" textLength="35" lengthAdjust="spacingAndGlyphs"><tspan font-style="italic">p</tspan> = 0.005</text>
<text x="288.3" y="586.8" font-size="8.4" text-anchor="start" textLength="17.8" lengthAdjust="spacingAndGlyphs" fill="#1a1a1a">Cre -</text>
<text x="328" y="586.8" font-size="8.4" text-anchor="start" textLength="20.4" lengthAdjust="spacingAndGlyphs" fill="#1a1a1a">Cre +</text>
<text transform="translate(27.9 334.9) rotate(-90)" x="0" y="0" font-size="9.2" text-anchor="middle" fill="#1c1c1c" style="stroke-width:0.25px" textLength="110.2" lengthAdjust="spacingAndGlyphs">Ldb1 ChIP relative enrichment</text>
<text transform="translate(27.9 514.3) rotate(-90)" x="0" y="0" font-size="9.2" text-anchor="middle" fill="#1c1c1c" style="stroke-width:0.25px" textLength="105.4" lengthAdjust="spacingAndGlyphs">Lmo2 ChIP relative enrichment</text>
<path d="M0 0H520V596H0Z M1 1V594.9H519V1Z" fill="#000" fill-rule="evenodd" shape-rendering="crispEdges"/>
<path d="M1 1h0.25V595H1Z" fill="#000"/>
<path d="M1 594.7H519V595H1Z" fill="#000"/>
</svg>
</body>
</html>
